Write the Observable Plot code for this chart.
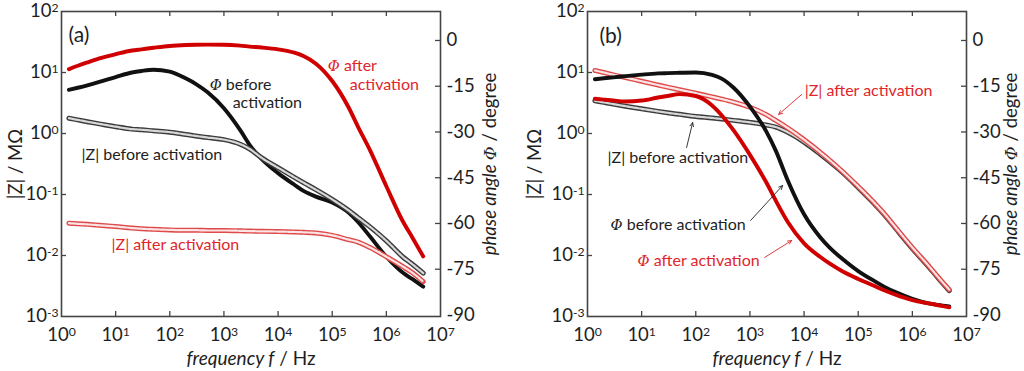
<!DOCTYPE html>
<html><head><meta charset="utf-8">
<script src="https://cdn.jsdelivr.net/npm/d3@7"></script>
<script src="https://cdn.jsdelivr.net/npm/@observablehq/plot@0.6"></script>
<style>
body{margin:0;background:#fff;}
#fig{display:flex;width:1024px;height:371px;overflow:hidden;}
</style></head><body><div id="fig"></div>
<script>
// ---------- data ----------
const freq = [1.37, 2, 3, 5, 10, 20, 30, 50, 100, 200, 300, 500, 1e3, 2e3, 3e3, 5e3,
              1e4, 2e4, 3e4, 5e4, 1e5, 2e5, 3e5, 5e5, 1e6, 2e6, 3e6, 4.8e6];

// panel (a)
const aZBefore = [1.782,1.671,1.560,1.439,1.294,1.180,1.153,1.107,1.052,0.962,0.912,0.859,0.794,0.668,0.556,0.398,
                  0.275,0.191,0.155,0.120,0.0832,0.0550,0.0417,0.0295,0.0174,0.00955,0.00724,0.00513];
const aZAfter = [0.0339,0.0331,0.0324,0.0313,0.0299,0.0282,0.0275,0.0269,0.0263,0.0260,0.0260,0.0257,0.0257,0.0254,0.0251,0.0249,
                 0.0247,0.0243,0.0240,0.0234,0.0214,0.0182,0.0166,0.0135,0.00955,0.00661,0.00525,0.00372];
const aPhiBefore = [-16.2,-15.5,-14.7,-13.6,-12.0,-10.5,-10.0,-9.6,-10.2,-12.5,-14.2,-17.0,-22.2,-29.4,-34.3,-38.9,
                    -43.5,-47.3,-49.4,-51.2,-53.1,-56.4,-59.5,-64.3,-70.9,-76.1,-78.2,-80.7];
const aPhiAfter = [-9.4,-8.3,-7.2,-5.9,-4.5,-3.3,-2.9,-2.4,-1.8,-1.5,-1.4,-1.35,-1.4,-1.7,-2.0,-2.3,
                   -2.9,-4.0,-5.2,-7.6,-13.3,-21.9,-28.3,-36.0,-47.8,-59.2,-64.5,-70.8];

// panel (b)
const bZBefore = [3.436,3.236,3.034,2.805,2.541,2.307,2.188,2.061,1.905,1.799,1.730,1.641,1.521,1.380,1.274,1.047,
                  0.724,0.457,0.343,0.234,0.130,0.0700,0.0473,0.0272,0.0130,0.00653,0.00427,0.00266];
const bZAfter = [10.79,10.0,9.16,8.28,7.18,6.24,5.75,5.22,4.57,3.99,3.67,3.27,2.69,2.04,1.641,1.230,
                 0.794,0.490,0.363,0.243,0.135,0.0724,0.0490,0.0282,0.0135,0.00676,0.00442,0.00275];
const bPhiBefore = [-12.7,-12.4,-12.1,-11.7,-11.2,-10.8,-10.7,-10.6,-10.5,-11.3,-12.5,-15.5,-21.7,-29.8,-36.1,-45.9,
                    -57.0,-64.6,-68.0,-71.5,-75.6,-78.9,-80.7,-82.6,-84.7,-86.2,-86.7,-87.2];
const bPhiAfter = [-19.1,-19.4,-19.7,-20.0,-19.7,-18.7,-18.2,-17.6,-18.2,-21.3,-24.5,-29.5,-37.5,-46.5,-52.5,-59.5,
                   -66.5,-71.0,-73.2,-75.6,-78.2,-80.5,-81.9,-83.4,-85.1,-86.2,-86.8,-87.5];

// axis ticks
const freqTicks = [1, 10, 100, 1e3, 1e4, 1e5, 1e6, 1e7];
const zTicks = [1e-3, 1e-2, 1e-1, 1, 10, 100];
const phaseTicks = [-90, -75, -60, -45, -30, -15, 0];

// annotations (data coordinates: frequency in Hz, |Z| in MΩ)
const aNotes = [
  {f: 545, z: 6.36, text: "Φ before", red: false},
  {f: 1449, z: 3.22, text: "activation", red: false},
  {f: 82600, z: 13.0, text: "Φ after", red: true},
  {f: 210500, z: 6.36, text: "activation", red: true},
  {f: 2.34, z: 0.453, text: "|Z| before activation", red: false},
  {f: 8.4, z: 0.0151, text: "|Z| after activation", red: true}
];
const bNotes = [
  {f: 2.34, z: 0.404, text: "|Z| before activation", red: false},
  {f: 2.66, z: 0.0322, text: "Φ before activation", red: false},
  {f: 8.4, z: 0.0083, text: "Φ after activation", red: true},
  {f: 10250, z: 5.07, text: "|Z| after activation", red: true}
];
const bArrows = [
  {f1: 67.6, z1: 0.589, f2: 87.5, z2: 1.51, red: false},
  {f1: 1030, z1: 0.0375, f2: 4018, z2: 0.1405, red: false},
  {f1: 1870, z1: 0.0093, f2: 5900, z2: 0.0176, red: true},
  {f1: 9030, z1: 4.36, f2: 3390, z2: 2.05, red: true}
];

// ---------- styling ----------
const FONT = "Lato, 'Open Sans', sans-serif";
const INK = "#1e1e1e", AXIS = "#444";
const RED_TEXT = "#e0262b", RED = "#d00000", BLACK = "#111";
const PH_LO = -90.5, PH_HI = 9.5;   // phase range spanning the same frame as 1e-3..1e2
const phToZ = p => Math.pow(10, -3 + 5 * (p - PH_LO) / (PH_HI - PH_LO));
const PW = 379, PH = 305;
const TICK_FS = 18.5, TITLE_FS = 18.5;

function series(vals, phase) {
  return freq.map((f, i) => ({f, v: phase ? phToZ(vals[i]) : vals[i]}));
}
function filled(vals, color) {
  return Plot.line(series(vals, true), {x: "f", y: "v", stroke: color, strokeWidth: 3.9, curve: "monotone-x"});
}
function openMarks(vals, outer, inner) {
  const d = series(vals, false);
  return [
    Plot.line(d, {x: "f", y: "v", stroke: outer, strokeWidth: 5, curve: "monotone-x"}),
    Plot.line(d, {x: "f", y: "v", stroke: inner, strokeWidth: 2.2, curve: "monotone-x", strokeDasharray: "2.4 1.2"})
  ];
}

function panel({ml, mr, letter, ldx, ldy, lines, notes, arrows, ylDx, yrDx}) {
  return Plot.plot({
    width: 512, height: 371,
    marginLeft: ml, marginRight: mr, marginTop: 11, marginBottom: 55,
    x: {type: "log", domain: [1, 1e7], axis: null},
    y: {type: "log", domain: [1e-3, 1e2], axis: null},
    style: {fontFamily: FONT, color: INK, background: "white", overflow: "visible"},
    marks: [
      ...lines,
      Plot.text(notes, {x: "f", y: "z", text: "text", textAnchor: "start", lineAnchor: "middle", fontSize: 16,
        fill: d => d.red ? RED_TEXT : INK}),
      Plot.arrow(arrows, {x1: "f1", y1: "z1", x2: "f2", y2: "z2", strokeWidth: 0.9, headLength: 7, headAngle: 50,
        stroke: d => d.red ? RED_TEXT : "#222"}),
      // inward tick marks
      Plot.tickX(freqTicks.slice(1, -1), {x: d => d, insetTop: PH - 5, stroke: AXIS, strokeWidth: 1.3}),
      Plot.tickX(freqTicks.slice(1, -1), {x: d => d, insetBottom: PH - 5, stroke: AXIS, strokeWidth: 1.3}),
      Plot.tickY(zTicks.slice(1, -1), {y: d => d, insetRight: PW - 5, stroke: AXIS, strokeWidth: 1.3}),
      Plot.tickY(phaseTicks.slice(1), {y: phToZ, insetLeft: PW - 5, stroke: AXIS, strokeWidth: 1.3}),
      Plot.frame({stroke: AXIS, strokeWidth: 1.6}),
      Plot.axisX(freqTicks, {tickSize: 0, tickPadding: 11, fontSize: TICK_FS, label: null,
        tickFormat: d => "10^" + Math.round(Math.log10(d))}),
      Plot.axisY(zTicks, {anchor: "left", tickSize: 0, tickPadding: 3, fontSize: TICK_FS, label: null,
        tickFormat: d => "10^" + Math.round(Math.log10(d))}),
      // right-hand phase axis labels, placed through the shared y scale
      Plot.text(phaseTicks, {y: phToZ, text: d => String(d), frameAnchor: "right", textAnchor: "start",
        lineAnchor: "middle", dx: 6, fontSize: TICK_FS, fill: INK}),
      Plot.text([letter], {frameAnchor: "top-left", dx: ldx, dy: ldy, textAnchor: "start", lineAnchor: "middle", fontSize: 21, fill: INK}),
      Plot.text(["frequency f / Hz"], {frameAnchor: "bottom", dy: 42, textAnchor: "middle", lineAnchor: "middle", fontSize: 19, fill: INK}),
      Plot.text(["|Z| / MΩ"], {frameAnchor: "left", rotate: -90, dx: ylDx, textAnchor: "middle", lineAnchor: "middle", fontSize: TITLE_FS, fill: INK}),
      Plot.text(["phase angle Φ / degree"], {frameAnchor: "right", rotate: -90, dx: yrDx, dy: 0, textAnchor: "middle", lineAnchor: "middle", fontSize: TITLE_FS, fill: INK})
    ]
  });
}

const NS = "http://www.w3.org/2000/svg";
function setParts(t, parts) {
  while (t.firstChild) t.removeChild(t.firstChild);
  for (const [s, st] of parts) {
    const ts = document.createElementNS(NS, "tspan");
    ts.textContent = s;
    if (st === "i") ts.setAttribute("font-style", "italic");
    if (st === "phi") { ts.setAttribute("font-style", "italic"); ts.setAttribute("font-family", "'DejaVu Serif', serif"); ts.setAttribute("font-size", "0.92em"); }
    if (st === "sup") { ts.setAttribute("dy", "-0.42em"); ts.setAttribute("font-size", "0.66em"); }
    t.appendChild(ts);
  }
}
function enrich(svg) {
  svg.querySelectorAll("text").forEach(t => {
    const s = t.textContent;
    const m = s.match(/^10\^(-?\d+)$/);
    if (m) return setParts(t, [["10", ""], [m[1], "sup"]]);
    if (s === "frequency f / Hz") return setParts(t, [["frequency f", "i"], [" / Hz", ""]]);
    if (s === "phase angle Φ / degree") return setParts(t, [["phase angle ", "i"], ["Φ", "phi"], [" / degree", ""]]);
    if (s.startsWith("Φ ")) return setParts(t, [["Φ", "phi"], [s.slice(1), ""]]);
  });
}

const greyOuter = "#3c3c3c", greyInner = "#d8d8d8";
const redOuter = "#de4a4a", redInner = "#fbe4e4";

const pa = panel({
  ml: 61, mr: 72, letter: "(a)", ldx: 7, ldy: 24, ylDx: -45, yrDx: 50,
  notes: aNotes, arrows: [],
  lines: [
    filled(aPhiBefore, BLACK),
    ...openMarks(aZBefore, greyOuter, greyInner),
    ...openMarks(aZAfter, redOuter, redInner),
    filled(aPhiAfter, RED)
  ]
});
const pb = panel({
  ml: 75, mr: 58, letter: "(b)", ldx: 12, ldy: 25, ylDx: -52, yrDx: 45,
  notes: bNotes, arrows: bArrows,
  lines: [
    ...openMarks(bZBefore, greyOuter, greyInner),
    ...openMarks(bZAfter, redOuter, redInner),
    filled(bPhiBefore, BLACK),
    filled(bPhiAfter, RED)
  ]
});
enrich(pa); enrich(pb);
document.getElementById("fig").append(pa, pb);
</script></body></html>
